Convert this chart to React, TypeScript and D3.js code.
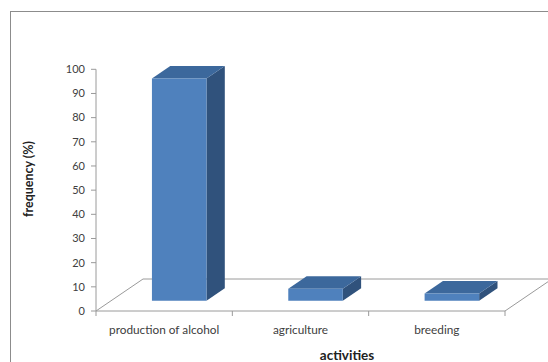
import React from "react";
import * as d3 from "d3";

const categories: string[] = ["production of alcohol", "agriculture", "breeding"];
const values: number[] = [92, 5, 3];
const yTicks: number[] = [0, 10, 20, 30, 40, 50, 60, 70, 80, 90, 100];
const yTitle = "frequency (%)";
const xTitle = "activities";

const W = 548;
const H = 362;
const x0 = 96, x1 = 505;
const yBase = 311, yTop = 69.3;
const depth = { dx: 47, dy: -32 };
const f0 = 0.32, f1 = 0.71;
const font = "Lato, 'Open Sans', sans-serif";

export default function App() {
  const x = d3.scaleBand<string>().domain(categories).range([x0, x1]).paddingInner(0.6).paddingOuter(0.3);
  const y = d3.scaleLinear().domain([0, 100]).range([yBase, yTop]);
  const step = x.step();
  const bw = x.bandwidth();
  const ox = depth.dx * f0, oy = depth.dy * f0;
  const bdx = depth.dx * (f1 - f0), bdy = depth.dy * (f1 - f0);
  const gridColor = "#9a9a9a";
  const txt = "#404040";
  const line = d3.line();
  const floor = line([
    [x0, yBase], [x1, yBase], [x1 + depth.dx, yBase + depth.dy], [x0 + depth.dx, yBase + depth.dy], [x0, yBase],
  ]) as string;

  return (
    <svg width={W} height={H} style={{ position: "absolute", left: 0, top: 0 }}>
      <rect x={0} y={0} width={W} height={H} fill="#fff" />
      <rect x={10.5} y={11.5} width={W + 10} height={H + 10} fill="#fff" stroke="#8c8c8c" strokeWidth={1} />
      <path d={floor} fill="none" stroke={gridColor} strokeWidth={1} />
      <line x1={x0} x2={x0} y1={y(100)} y2={yBase} stroke={gridColor} />
      {yTicks.map((t) => (
        <g key={t}>
          <line x1={x0 - 5} x2={x0} y1={y(t)} y2={y(t)} stroke={gridColor} />
          <text x={x0 - 11} y={y(t)} dy="0.35em" textAnchor="end" fontSize={11} fontFamily={font} fill={txt}>
            {t}
          </text>
        </g>
      ))}
      {d3.range(categories.length + 1).map((i) => (
        <line key={i} x1={x0 + i * step} x2={x0 + i * step} y1={yBase} y2={yBase + 5} stroke={gridColor} />
      ))}
      {categories.map((c, i) => {
        const left = (x(c) as number) + ox;
        const right = left + bw;
        const bottom = yBase + oy;
        const top = y(values[i]) + oy;
        const front = line([[left, top], [right, top], [right, bottom], [left, bottom]]) + "Z";
        const topFace = line([[left, top], [left + bdx, top + bdy], [right + bdx, top + bdy], [right, top]]) + "Z";
        const side = line([[right, top], [right + bdx, top + bdy], [right + bdx, bottom + bdy], [right, bottom]]) + "Z";
        return (
          <g key={c}>
            <path d={side} fill="#30527c" />
            <path d={topFace} fill="#3c689c" />
            <path d={front} fill="#4f81bd" />
          </g>
        );
      })}
      {categories.map((c) => (
        <text key={c} x={(x(c) as number) + bw / 2} y={330} dy="0.35em" textAnchor="middle" fontSize={11.8} fontFamily={font} fill={txt}>
          {c}
        </text>
      ))}
      <text x={347} y={355} dy="0.35em" textAnchor="middle" fontSize={13.5} fontWeight="bold" fontFamily={font} fill="#222">
        {xTitle}
      </text>
      <text transform={`translate(29,179) rotate(-90)`} dy="0.35em" textAnchor="middle" fontSize={12.5} fontWeight="bold" fontFamily={font} fill="#222">
        {yTitle}
      </text>
    </svg>
  );
}
